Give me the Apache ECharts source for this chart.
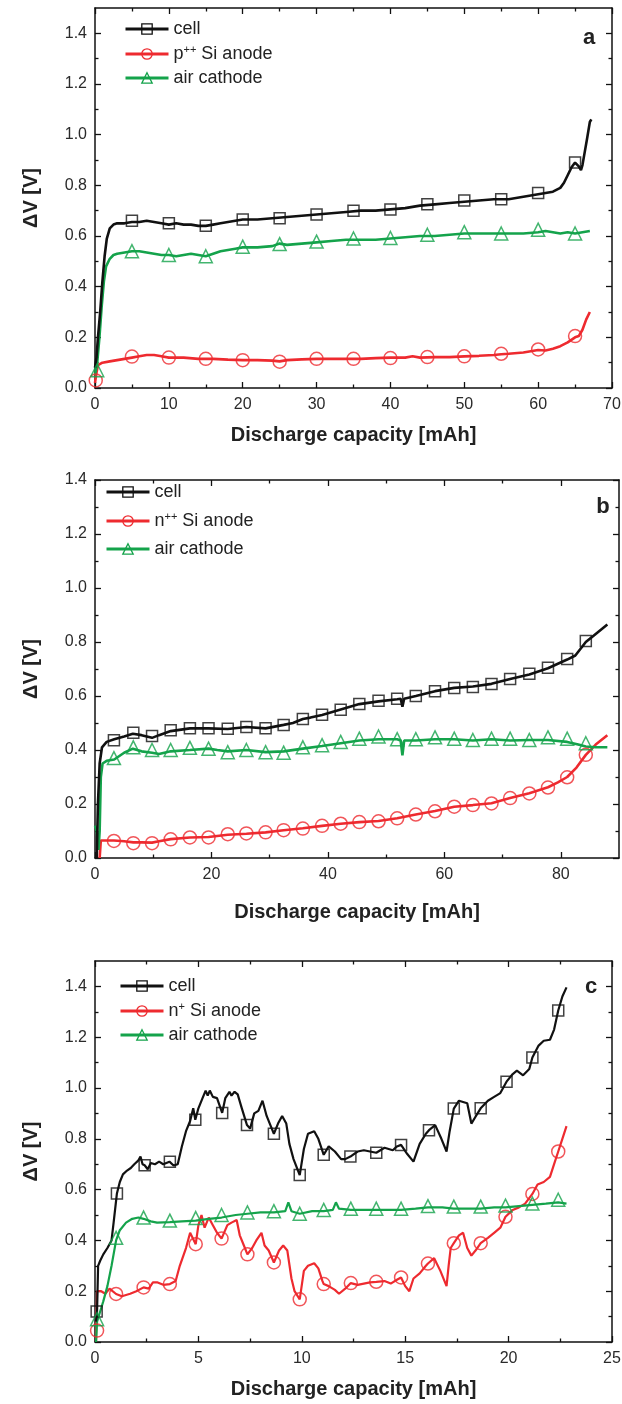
<!DOCTYPE html>
<html><head><meta charset="utf-8">
<script src="https://cdn.jsdelivr.net/npm/echarts@6/dist/echarts.min.js"></script>
<style>html,body{margin:0;padding:0;background:#fff}#c{width:622px;height:1404px}</style>
</head><body><div id="c"></div><script>
// ---------- tick values ----------
const xTicksA = [0,10,20,30,40,50,60,70];
const xMinorA = [5,15,25,35,45,55,65];
const xTicksB = [0,20,40,60,80];
const xMinorB = [10,30,50,70];
const xTicksC = [0,5,10,15,20,25];
const xMinorC = [2.5,7.5,12.5,17.5,22.5];
const yTicks = [0,0.2,0.4,0.6,0.8,1.0,1.2,1.4];
const yMinor = [0.1,0.3,0.5,0.7,0.9,1.1,1.3];

const namesA = ['cell','p++ Si anode','air cathode'];
const namesB = ['cell','n++ Si anode','air cathode'];
const namesC = ['cell','n+ Si anode','air cathode'];

// ---------- panel a ----------
const cellA = [[0,0.08],[0.2,0.12],[0.4,0.2],[0.7,0.3],[1.0,0.42],[1.3,0.52],[1.6,0.59],[2.0,0.63],[2.5,0.645],[3,0.65],[4,0.65],[5,0.655],[6,0.655],[7,0.66],[8,0.655],[9,0.65],[10,0.645],[11,0.65],[12,0.645],[13,0.645],[14,0.64],[15,0.64],[16,0.645],[17,0.65],[18,0.655],[19,0.66],[20,0.665],[22,0.665],[24,0.67],[26,0.675],[28,0.68],[30,0.685],[32,0.69],[34,0.695],[36,0.70],[38,0.70],[40,0.705],[42,0.71],[44,0.72],[46,0.725],[48,0.73],[50,0.735],[52,0.74],[54,0.745],[56,0.745],[58,0.755],[60,0.765],[61,0.77],[62,0.775],[63,0.79],[63.5,0.81],[64,0.84],[64.5,0.87],[65,0.89],[65.5,0.875],[65.8,0.86],[66,0.88],[66.3,0.93],[66.6,0.98],[67,1.05],[67.2,1.06]];
const anodeA = [[0,0.02],[0.2,0.06],[0.4,0.09],[1,0.1],[2,0.105],[3,0.11],[4,0.115],[5,0.12],[6,0.125],[7,0.13],[8,0.13],[9,0.125],[10,0.12],[12,0.12],[14,0.115],[16,0.115],[18,0.112],[20,0.11],[22,0.11],[24,0.108],[25,0.105],[26,0.11],[28,0.113],[30,0.115],[32,0.115],[34,0.115],[36,0.115],[38,0.118],[40,0.12],[42,0.12],[43,0.125],[44,0.12],[46,0.122],[48,0.122],[50,0.125],[52,0.127],[54,0.13],[55,0.133],[56,0.135],[58,0.14],[60,0.15],[61,0.148],[62,0.155],[63,0.165],[64,0.18],[64.5,0.19],[65,0.2],[65.5,0.205],[66,0.23],[66.5,0.27],[67,0.3]];
const cathodeA = [[0,0.05],[0.3,0.1],[0.6,0.2],[0.9,0.32],[1.2,0.42],[1.5,0.48],[2,0.51],[2.5,0.525],[3,0.53],[4,0.535],[5,0.54],[6,0.54],[7,0.535],[8,0.53],[9,0.525],[10,0.525],[11,0.52],[12,0.525],[13,0.53],[14,0.525],[15,0.52],[16,0.53],[17,0.54],[18,0.545],[19,0.55],[20,0.555],[22,0.555],[24,0.56],[25,0.57],[26,0.565],[28,0.57],[30,0.575],[32,0.58],[34,0.585],[36,0.585],[38,0.585],[40,0.59],[42,0.595],[44,0.6],[46,0.6],[48,0.605],[50,0.61],[52,0.61],[54,0.61],[56,0.61],[58,0.61],[60,0.615],[61,0.62],[62,0.615],[63,0.61],[64,0.615],[65,0.61],[66,0.615],[67,0.62]];
const cellAMarks = [[5,0.66],[10,0.65],[15,0.64],[20,0.665],[25,0.67],[30,0.685],[35,0.70],[40,0.705],[45,0.725],[50,0.74],[55,0.745],[60,0.77],[65,0.89]];
const anodeAMarks = [[0.1,0.03],[5,0.124],[10,0.12],[15,0.115],[20,0.11],[25,0.104],[30,0.115],[35,0.115],[40,0.118],[45,0.122],[50,0.125],[55,0.135],[60,0.152],[65,0.205]];
const cathodeAMarks = [[0.3,0.07],[5,0.54],[10,0.525],[15,0.52],[20,0.558],[25,0.568],[30,0.578],[35,0.59],[40,0.592],[45,0.605],[50,0.615],[55,0.61],[60,0.625],[65,0.61]];

// ---------- panel b ----------
const cellB = [[0.3,0],[0.5,0.2],[0.8,0.35],[1.2,0.41],[2,0.43],[3.3,0.44],[5,0.45],[6.5,0.46],[8,0.455],[9.8,0.445],[11,0.455],[13,0.47],[16.3,0.48],[19.5,0.48],[22.8,0.478],[26,0.485],[29.3,0.48],[32.4,0.493],[34,0.5],[35.7,0.515],[37,0.52],[39,0.53],[42.2,0.55],[45.4,0.57],[48.7,0.58],[51.9,0.588],[52.5,0.59],[52.8,0.56],[53.1,0.59],[55.1,0.6],[58.4,0.618],[61.7,0.63],[64.9,0.635],[68.1,0.645],[71.3,0.663],[74.6,0.68],[77.8,0.703],[81.1,0.735],[82.5,0.75],[84.3,0.8],[86,0.83],[88,0.865]];
const anodeB = [[0.8,0],[1.0,0.065],[2,0.065],[3.25,0.065],[5,0.062],[6.58,0.058],[8,0.058],[9.8,0.057],[11,0.062],[13,0.07],[16.3,0.076],[19.5,0.078],[22.8,0.086],[26,0.09],[29.3,0.095],[32.4,0.103],[35.7,0.11],[39,0.119],[42.2,0.127],[45.4,0.133],[48.7,0.137],[51.9,0.147],[55.1,0.161],[58.4,0.174],[61.7,0.19],[64.9,0.196],[68.1,0.203],[71.3,0.222],[74.6,0.24],[77.8,0.262],[79.5,0.28],[81.1,0.3],[82.7,0.335],[84.3,0.382],[86,0.42],[88,0.455]];
const cathodeB = [[0,0.12],[0.3,0.1],[0.6,0.03],[0.8,0.1],[1.0,0.3],[1.3,0.35],[2,0.36],[3.3,0.365],[5,0.39],[6.5,0.405],[8,0.395],[9.8,0.39],[11,0.385],[13,0.395],[16.3,0.4],[19.5,0.405],[21,0.4],[22.8,0.395],[26,0.4],[29.3,0.392],[32.4,0.395],[35.7,0.405],[39,0.415],[42.2,0.425],[45.4,0.435],[48.7,0.44],[51.9,0.44],[52.5,0.435],[52.8,0.38],[53.1,0.435],[55.1,0.435],[58.4,0.44],[61.7,0.44],[64.9,0.435],[68.1,0.44],[71.3,0.435],[74.6,0.437],[77.8,0.437],[81.1,0.43],[83,0.42],[84.3,0.413],[86,0.41],[88,0.41]];
const cellBMarks = [[3.25,0.436],[6.58,0.464],[9.8,0.452],[13.0,0.473],[16.3,0.481],[19.5,0.481],[22.8,0.479],[26.0,0.485],[29.3,0.481],[32.4,0.493],[35.7,0.515],[39.0,0.531],[42.2,0.549],[45.4,0.57],[48.7,0.582],[51.9,0.59],[55.1,0.6],[58.4,0.618],[61.7,0.63],[64.9,0.633],[68.1,0.644],[71.3,0.663],[74.6,0.682],[77.8,0.705],[81.1,0.737],[84.3,0.804]];
const anodeBMarks = [[3.25,0.063],[6.58,0.055],[9.8,0.055],[13.0,0.069],[16.3,0.076],[19.5,0.076],[22.8,0.088],[26.0,0.091],[29.3,0.095],[32.4,0.103],[35.7,0.109],[39.0,0.119],[42.2,0.127],[45.4,0.133],[48.7,0.136],[51.9,0.147],[55.1,0.161],[58.4,0.173],[61.7,0.19],[64.9,0.196],[68.1,0.202],[71.3,0.222],[74.6,0.239],[77.8,0.261],[81.1,0.299],[84.3,0.382]];
const cathodeBMarks = [[3.25,0.37],[6.58,0.41],[9.8,0.4],[13.0,0.4],[16.3,0.408],[19.5,0.405],[22.8,0.392],[26.0,0.4],[29.3,0.392],[32.4,0.39],[35.7,0.41],[39.0,0.418],[42.2,0.43],[45.4,0.442],[48.7,0.45],[51.9,0.44],[55.1,0.44],[58.4,0.447],[61.7,0.442],[64.9,0.437],[68.1,0.442],[71.3,0.442],[74.6,0.437],[77.8,0.447],[81.1,0.442],[84.3,0.425]];

// ---------- panel c ----------
const cellC = [[0.05,0.08],[0.1,0.12],[0.15,0.3],[0.25,0.32],[0.4,0.345],[0.6,0.37],[0.8,0.4],[0.9,0.47],[1.06,0.585],[1.2,0.63],[1.35,0.66],[1.55,0.675],[1.73,0.685],[1.9,0.7],[2.1,0.715],[2.2,0.73],[2.3,0.7],[2.4,0.696],[2.55,0.68],[2.7,0.705],[2.9,0.7],[3.1,0.71],[3.3,0.7],[3.6,0.71],[3.8,0.695],[4.0,0.7],[4.2,0.77],[4.4,0.83],[4.6,0.87],[4.75,0.92],[4.85,0.875],[5.0,0.92],[5.2,0.96],[5.35,0.99],[5.45,0.97],[5.55,0.99],[5.7,0.965],[5.9,0.96],[6.15,0.902],[6.3,0.96],[6.5,0.985],[6.6,0.97],[6.75,0.985],[6.9,0.975],[7.1,0.92],[7.35,0.854],[7.5,0.84],[7.7,0.9],[7.9,0.91],[8.1,0.95],[8.3,0.89],[8.5,0.85],[8.65,0.82],[8.85,0.86],[9.05,0.89],[9.25,0.86],[9.4,0.78],[9.6,0.72],[9.9,0.657],[10.1,0.76],[10.3,0.82],[10.6,0.83],[10.8,0.8],[11.06,0.737],[11.3,0.77],[11.6,0.75],[11.9,0.72],[12.1,0.72],[12.35,0.73],[12.7,0.75],[13.0,0.755],[13.3,0.75],[13.6,0.745],[14.0,0.765],[14.4,0.755],[14.6,0.77],[14.8,0.776],[15.1,0.74],[15.4,0.71],[15.7,0.78],[16.0,0.82],[16.15,0.834],[16.45,0.854],[16.75,0.8],[17.0,0.75],[17.15,0.83],[17.35,0.919],[17.6,0.95],[18.0,0.94],[18.2,0.86],[18.4,0.887],[18.65,0.92],[19.0,0.95],[19.3,0.965],[19.6,0.98],[19.9,1.025],[20.2,1.055],[20.4,1.068],[20.7,1.05],[21.0,1.075],[21.15,1.12],[21.45,1.167],[21.7,1.186],[22.0,1.19],[22.2,1.23],[22.4,1.305],[22.6,1.36],[22.8,1.396]];
const anodeC = [[0.05,0],[0.1,0.2],[0.3,0.2],[0.5,0.19],[0.7,0.21],[0.85,0.2],[1.02,0.189],[1.3,0.18],[1.7,0.19],[2.0,0.2],[2.35,0.215],[2.6,0.21],[2.8,0.235],[3.0,0.235],[3.3,0.225],[3.62,0.228],[3.9,0.24],[4.1,0.3],[4.4,0.37],[4.6,0.43],[4.87,0.385],[5.0,0.46],[5.15,0.5],[5.3,0.45],[5.5,0.49],[5.7,0.46],[5.9,0.43],[6.12,0.407],[6.4,0.46],[6.6,0.47],[6.85,0.48],[7.0,0.42],[7.2,0.38],[7.37,0.345],[7.6,0.37],[7.8,0.4],[8.05,0.43],[8.2,0.38],[8.4,0.36],[8.65,0.313],[8.9,0.36],[9.1,0.38],[9.3,0.36],[9.5,0.25],[9.65,0.2],[9.9,0.168],[10.1,0.28],[10.3,0.3],[10.6,0.31],[10.8,0.29],[11.0,0.24],[11.06,0.228],[11.3,0.22],[11.6,0.205],[11.8,0.19],[12.1,0.21],[12.37,0.232],[12.7,0.225],[13.0,0.23],[13.3,0.235],[13.6,0.237],[14.0,0.24],[14.3,0.23],[14.6,0.245],[14.8,0.254],[15.0,0.22],[15.2,0.2],[15.4,0.25],[15.7,0.27],[16.0,0.3],[16.1,0.309],[16.4,0.33],[16.7,0.28],[17.0,0.22],[17.1,0.3],[17.2,0.37],[17.35,0.389],[17.6,0.42],[17.8,0.43],[18.0,0.37],[18.2,0.34],[18.4,0.36],[18.65,0.389],[19.0,0.41],[19.3,0.43],[19.6,0.45],[19.85,0.493],[20.2,0.52],[20.5,0.53],[20.8,0.545],[21.15,0.583],[21.4,0.62],[21.7,0.63],[22.0,0.65],[22.2,0.7],[22.4,0.75],[22.6,0.8],[22.8,0.85]];
const cathodeC = [[0.05,0.0],[0.1,0.08],[0.25,0.12],[0.4,0.16],[0.6,0.22],[0.8,0.3],[1.02,0.4],[1.2,0.44],[1.5,0.47],[1.8,0.485],[2.1,0.49],[2.35,0.485],[2.7,0.475],[3.0,0.47],[3.62,0.472],[4.2,0.475],[4.87,0.478],[5.5,0.485],[6.12,0.49],[6.8,0.5],[7.37,0.505],[8.0,0.51],[8.65,0.51],[9.2,0.515],[9.35,0.55],[9.5,0.515],[9.9,0.505],[10.5,0.515],[11.06,0.515],[11.5,0.52],[11.65,0.55],[11.8,0.525],[12.37,0.52],[13.0,0.52],[13.6,0.52],[14.2,0.52],[14.8,0.52],[15.5,0.525],[16.1,0.53],[16.8,0.53],[17.35,0.525],[18.0,0.525],[18.65,0.525],[19.3,0.53],[19.85,0.53],[20.5,0.535],[21.15,0.54],[21.8,0.545],[22.4,0.55],[22.8,0.545]];
const cellCMarks = [[0.08,0.12],[1.06,0.585],[2.4,0.696],[3.62,0.71],[4.85,0.875],[6.15,0.902],[7.35,0.854],[8.65,0.82],[9.9,0.657],[11.06,0.737],[12.35,0.73],[13.6,0.745],[14.8,0.776],[16.15,0.834],[17.35,0.919],[18.65,0.92],[19.9,1.025],[21.15,1.12],[22.4,1.305]];
const anodeCMarks = [[0.1,0.045],[1.02,0.189],[2.35,0.215],[3.62,0.228],[4.87,0.385],[6.12,0.407],[7.37,0.345],[8.65,0.313],[9.9,0.168],[11.06,0.228],[12.37,0.232],[13.6,0.237],[14.8,0.254],[16.1,0.309],[17.35,0.389],[18.65,0.389],[19.85,0.493],[21.15,0.583],[22.4,0.75]];
const cathodeCMarks = [[0.1,0.09],[1.02,0.41],[2.35,0.49],[3.62,0.478],[4.87,0.488],[6.12,0.5],[7.37,0.51],[8.65,0.515],[9.9,0.505],[11.06,0.52],[12.37,0.525],[13.6,0.525],[14.8,0.525],[16.1,0.535],[17.35,0.533],[18.65,0.533],[19.85,0.537],[21.15,0.545],[22.4,0.56]];

// ---------- styling / layout ----------
const FONT = '"Liberation Sans", Arial, Helvetica, sans-serif';
const COLORS = ['#111111', '#ee2a2f', '#14a34b'];
const SYMBOLS = ['rect', 'circle', 'triangle'];
const SYMSIZE = [11, 13, 13];

const panels = [
  { grid:{left:95, top:8, width:517, height:380}, xMax:70, xT:xTicksA, xM:xMinorA, yMax:1.5,
    lines:[cellA, anodeA, cathodeA], marks:[cellAMarks, anodeAMarks, cathodeAMarks], names:namesA,
    legend:{left:124, top:20, gap:6}, letter:'a', lp:[589,38], xGap:37, lw:2.6 },
  { grid:{left:95, top:480, width:524, height:378}, xMax:90, xT:xTicksB, xM:xMinorB, yMax:1.4,
    lines:[cellB, anodeB, cathodeB], marks:[cellBMarks, anodeBMarks, cathodeBMarks], names:namesB,
    legend:{left:105, top:483, gap:10}, letter:'b', lp:[603,507], xGap:44, lw:2.6 },
  { grid:{left:95, top:961, width:517, height:381}, xMax:25, xT:xTicksC, xM:xMinorC, yMax:1.5,
    lines:[cellC, anodeC, cathodeC], marks:[cellCMarks, anodeCMarks, cathodeCMarks], names:namesC,
    legend:{left:119, top:977, gap:6}, letter:'c', lp:[591,987], xGap:37, lw:2.2 }
];

const supMap = {
  'p++ Si anode':'{n|p}{s|++}{n| Si anode}',
  'n++ Si anode':'{n|n}{s|++}{n| Si anode}',
  'n+ Si anode':'{n|n}{s|+}{n| Si anode}'
};

const grids = [], xAxes = [], yAxes = [], lineSeries = [], markSeries = [], legends = [], graphics = [];

function axisPair(gi, isX, max, majors, minors, pos, labels, extra) {
  const major = Object.assign({
    type:'value', gridIndex:gi, min:0, max:max, position:pos,
    axisLine:{show:true, onZero:false, lineStyle:{color:'#111', width:1.5}},
    axisTick:{show:true, inside:true, length:6, customValues:majors, lineStyle:{color:'#111', width:1.3}},
    axisLabel:labels ? {show:true, customValues:majors, color:'#2a2a2a', fontSize:16, fontFamily:FONT, margin:isX?9:8,
      formatter: isX ? (v => String(v)) : (v => v.toFixed(1))} : {show:false},
    splitLine:{show:false}, minorTick:{show:false}
  }, extra || {});
  const minor = {
    type:'value', gridIndex:gi, min:0, max:max, position:pos,
    axisLine:{show:false, onZero:false},
    axisTick:{show:true, inside:true, length:3.5, customValues:minors, lineStyle:{color:'#111', width:1.3}},
    axisLabel:{show:false}, splitLine:{show:false}
  };
  return [major, minor];
}

panels.forEach((p, gi) => {
  grids.push(Object.assign({outerBoundsMode:'none', containLabel:false}, p.grid));
  const xi = xAxes.length, yi = yAxes.length;
  xAxes.push(...axisPair(gi, true, p.xMax, p.xT, p.xM, 'bottom', true, {
    name:'Discharge capacity [mAh]', nameLocation:'middle', nameGap:p.xGap,
    nameTextStyle:{fontFamily:FONT, fontWeight:'bold', fontSize:20, color:'#222'}
  }));
  xAxes.push(...axisPair(gi, true, p.xMax, p.xT, p.xM, 'top', false));
  yAxes.push(...axisPair(gi, false, p.yMax, yTicks, yMinor, 'left', true, {
    name:'\u0394V [V]', nameLocation:'middle', nameGap:54, nameRotate:90,
    nameTextStyle:{fontFamily:FONT, fontWeight:'bold', fontSize:20, color:'#222'}
  }));
  yAxes.push(...axisPair(gi, false, p.yMax, yTicks, yMinor, 'right', false));

  p.lines.forEach((d, k) => {
    lineSeries.push({
      type:'line', name:p.names[k], xAxisIndex:xi, yAxisIndex:yi, data:d,
      symbol:SYMBOLS[k], showSymbol:false, symbolSize:SYMSIZE[k],
      lineStyle:{color:COLORS[k], width:p.lw}, color:COLORS[k],
      itemStyle:{color:'rgba(255,255,255,0)', borderColor:COLORS[k], borderWidth:1.4},
      z:2 + (k === 0 ? 1 : 0)
    });
  });
  p.marks.forEach((d, k) => {
    markSeries.push({
      type:'scatter', name:p.names[k], xAxisIndex:xi, yAxisIndex:yi, data:d,
      symbol:SYMBOLS[k], symbolSize:SYMSIZE[k],
      itemStyle:{color:'rgba(255,255,255,0)', borderColor:COLORS[k], borderWidth:1.5},
      z:4
    });
  });

  legends.push({
    orient:'vertical', left:p.legend.left, top:p.legend.top, padding:0,
    itemWidth:43, itemHeight:13, itemGap:p.legend.gap, itemTextGap:5,
    selectedMode:false,
    data:p.names.map((n, k) => ({
      name:n,
      itemStyle:{color:'rgba(255,255,255,0)', borderColor:COLORS[k], borderWidth:1.3},
      lineStyle:{color:COLORS[k], width:3}
    })),
    formatter:n => supMap[n] || ('{n|' + n + '}'),
    textStyle:{rich:{
      n:{fontSize:18, fontFamily:FONT, color:'#222', lineHeight:20},
      s:{fontSize:11, fontFamily:FONT, color:'#222', lineHeight:11, verticalAlign:'top'}
    }}
  });

  graphics.push({
    type:'text', x:p.lp[0], y:p.lp[1],
    style:{text:p.letter, fontFamily:FONT, fontWeight:'bold', fontSize:22, fill:'#222',
      align:'center', verticalAlign:'middle'}
  });
});

const chart = echarts.init(document.getElementById('c'), null, {renderer:'canvas'});
chart.setOption({
  animation:false,
  backgroundColor:'#fff',
  grid:grids, xAxis:xAxes, yAxis:yAxes,
  legend:legends,
  graphic:graphics,
  series:lineSeries.concat(markSeries)
});
</script></body></html>
